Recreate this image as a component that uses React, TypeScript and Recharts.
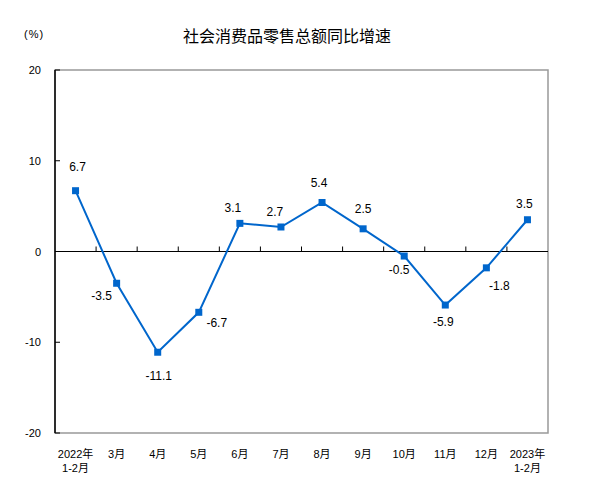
import { LineChart, Line, XAxis, YAxis, ReferenceLine, ReferenceArea, LabelList } from 'recharts'

const categories = [
  '2022年\n1-2月',
  '3月',
  '4月',
  '5月',
  '6月',
  '7月',
  '8月',
  '9月',
  '10月',
  '11月',
  '12月',
  '2023年\n1-2月',
]
const growth = [6.7, -3.5, -11.1, -6.7, 3.1, 2.7, 5.4, 2.5, -0.5, -5.9, -1.8, 3.5]
const yTicks = [-20, -10, 0, 10, 20]

// where each data label sits relative to its point (dx, dy of the text centre)
const labelOffsets: [number, number][] = [
  [2, -24], [-15, 13], [1, 24], [18, 11], [-7, -15], [-6, -15],
  [-3, -19], [0, -20], [-5, 14], [-2, 17], [13, 18], [-3, -16],
]

const W = 600
const H = 486
const M = { top: 62, right: 60, bottom: 21, left: 7 }
const Y_AXIS_W = 40
const X_AXIS_H = 40
const PLOT_H = H - M.top - M.bottom - X_AXIS_H
const PLOT_W = W - M.left - M.right - Y_AXIS_W
const BAND = PLOT_W / categories.length
const ZERO_Y = M.top + PLOT_H / 2

const BLUE = '#0066cc'
const FONT = '"Liberation Sans", Arial, "Noto Sans CJK SC", sans-serif'

const data = categories.map((name, i) => ({ name, value: growth[i] }))

function XTick(props: any) {
  const { x, y, payload, index } = props
  const lines = String(payload.value).split('\n')
  return (
    <g>
      {index < categories.length - 1 && (
        <line x1={x + BAND / 2} x2={x + BAND / 2} y1={ZERO_Y} y2={ZERO_Y - 5} stroke="#000" strokeWidth={1} />
      )}
      <text x={x} y={y + 23} textAnchor="middle" fontSize={11} fill="#000" fontFamily={FONT}>
        {lines.map((l, i) => (
          <tspan key={i} x={x} dy={i === 0 ? 0 : 14}>
            {l}
          </tspan>
        ))}
      </text>
    </g>
  )
}

function YTick(props: any) {
  const { x, y, payload } = props
  return (
    <g>
      <line x1={x} x2={x + 5} y1={y} y2={y} stroke="#000" strokeWidth={1} />
      <text x={x - 14} y={y + 4} textAnchor="end" fontSize={11} fill="#000" fontFamily={FONT}>
        {payload.value}
      </text>
    </g>
  )
}

function SquareDot(props: any) {
  const { cx, cy } = props
  if (cx == null || cy == null) return null
  return <rect x={cx - 3.5} y={cy - 3.5} width={7} height={7} fill={BLUE} />
}

function PointLabel(props: any) {
  const { x, y, value, index } = props
  const [dx, dy] = labelOffsets[index] ?? [0, -16]
  return (
    <text x={x + dx} y={y + dy + 4} textAnchor="middle" fontSize={12} fill="#000" fontFamily={FONT}>
      {value}
    </text>
  )
}

export default function App() {
  return (
    <div style={{ position: 'relative', width: W, height: H, background: '#fff' }}>
      <div
        style={{
          position: 'absolute',
          left: 0,
          top: 15,
          width: 558,
          textAlign: 'center',
          fontSize: 16,
          fontFamily: '"Noto Sans CJK SC", sans-serif',
          color: '#000',
        }}
      >
        社会消费品零售总额同比增速
      </div>
      <div
        style={{
          position: 'absolute',
          left: 16,
          top: 20,
          fontSize: 11,
          letterSpacing: 1,
          fontFamily: FONT,
          color: '#000',
        }}
      >
        (%)
      </div>
      <LineChart width={W} height={H} data={data} margin={M}>
        <ReferenceArea y1={-20} y2={20} stroke="#999" strokeWidth={1.5} fill="none" fillOpacity={0} />
        <XAxis
          dataKey="name"
          scale="band"
          interval={0}
          axisLine={false}
          tickLine={false}
          tickSize={0}
          tick={<XTick />}
          height={X_AXIS_H}
        />
        <YAxis
          domain={[-20, 20]}
          ticks={yTicks}
          axisLine={{ stroke: '#000', strokeWidth: 1.5 }}
          tickLine={false}
          tickSize={0}
          tickMargin={0}
          tick={<YTick />}
          width={Y_AXIS_W}
        />
        <ReferenceLine y={0} stroke="#000" strokeWidth={1.2} />
        <Line
          type="linear"
          dataKey="value"
          stroke={BLUE}
          strokeWidth={2}
          dot={<SquareDot />}
          activeDot={false}
          isAnimationActive={false}
        >
          <LabelList dataKey="value" content={<PointLabel />} />
        </Line>
      </LineChart>
    </div>
  )
}
